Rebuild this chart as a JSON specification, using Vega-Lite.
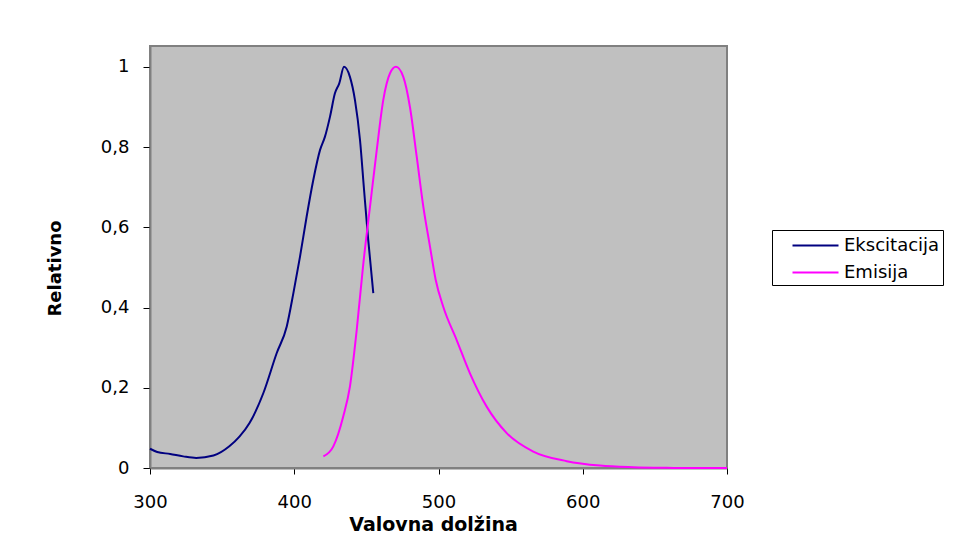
{
  "$schema": "https://vega.github.io/schema/vega-lite/v6.json",
  "width": 577,
  "height": 422,
  "autosize": "none",
  "padding": {"left": 150, "top": 46, "right": 235, "bottom": 87},
  "background": "white",
  "data": {
    "values": [
      {"nm": 300, "rel": 0.048, "serie": "Ekscitacija"},
      {"nm": 305, "rel": 0.040, "serie": "Ekscitacija"},
      {"nm": 314, "rel": 0.035, "serie": "Ekscitacija"},
      {"nm": 323, "rel": 0.029, "serie": "Ekscitacija"},
      {"nm": 332, "rel": 0.025, "serie": "Ekscitacija"},
      {"nm": 344, "rel": 0.031, "serie": "Ekscitacija"},
      {"nm": 355, "rel": 0.054, "serie": "Ekscitacija"},
      {"nm": 362, "rel": 0.078, "serie": "Ekscitacija"},
      {"nm": 369, "rel": 0.112, "serie": "Ekscitacija"},
      {"nm": 378.6, "rel": 0.187, "serie": "Ekscitacija"},
      {"nm": 387.8, "rel": 0.286, "serie": "Ekscitacija"},
      {"nm": 394.8, "rel": 0.353, "serie": "Ekscitacija"},
      {"nm": 399.4, "rel": 0.436, "serie": "Ekscitacija"},
      {"nm": 404, "rel": 0.527, "serie": "Ekscitacija"},
      {"nm": 408.6, "rel": 0.627, "serie": "Ekscitacija"},
      {"nm": 413.2, "rel": 0.718, "serie": "Ekscitacija"},
      {"nm": 417.9, "rel": 0.793, "serie": "Ekscitacija"},
      {"nm": 421.3, "rel": 0.826, "serie": "Ekscitacija"},
      {"nm": 424.8, "rel": 0.876, "serie": "Ekscitacija"},
      {"nm": 428.2, "rel": 0.934, "serie": "Ekscitacija"},
      {"nm": 431.2, "rel": 0.959, "serie": "Ekscitacija"},
      {"nm": 434.5, "rel": 1.0, "serie": "Ekscitacija"},
      {"nm": 438.6, "rel": 0.975, "serie": "Ekscitacija"},
      {"nm": 442.1, "rel": 0.917, "serie": "Ekscitacija"},
      {"nm": 445.6, "rel": 0.817, "serie": "Ekscitacija"},
      {"nm": 448.4, "rel": 0.693, "serie": "Ekscitacija"},
      {"nm": 451.3, "rel": 0.568, "serie": "Ekscitacija"},
      {"nm": 454.8, "rel": 0.436, "serie": "Ekscitacija"},
      {"nm": 420.2, "rel": 0.029, "serie": "Emisija"},
      {"nm": 427.1, "rel": 0.054, "serie": "Emisija"},
      {"nm": 434, "rel": 0.129, "serie": "Emisija"},
      {"nm": 438.6, "rel": 0.203, "serie": "Emisija"},
      {"nm": 443.3, "rel": 0.344, "serie": "Emisija"},
      {"nm": 447.9, "rel": 0.51, "serie": "Emisija"},
      {"nm": 452.5, "rel": 0.651, "serie": "Emisija"},
      {"nm": 457.2, "rel": 0.793, "serie": "Emisija"},
      {"nm": 461.7, "rel": 0.917, "serie": "Emisija"},
      {"nm": 466.4, "rel": 0.984, "serie": "Emisija"},
      {"nm": 470.5, "rel": 1.0, "serie": "Emisija"},
      {"nm": 475.6, "rel": 0.975, "serie": "Emisija"},
      {"nm": 480.2, "rel": 0.9, "serie": "Emisija"},
      {"nm": 484.9, "rel": 0.776, "serie": "Emisija"},
      {"nm": 489.5, "rel": 0.651, "serie": "Emisija"},
      {"nm": 494.1, "rel": 0.552, "serie": "Emisija"},
      {"nm": 498, "rel": 0.47, "serie": "Emisija"},
      {"nm": 503.3, "rel": 0.402, "serie": "Emisija"},
      {"nm": 512.6, "rel": 0.319, "serie": "Emisija"},
      {"nm": 521.8, "rel": 0.236, "serie": "Emisija"},
      {"nm": 533.4, "rel": 0.153, "serie": "Emisija"},
      {"nm": 547.3, "rel": 0.087, "serie": "Emisija"},
      {"nm": 565.7, "rel": 0.041, "serie": "Emisija"},
      {"nm": 588.9, "rel": 0.017, "serie": "Emisija"},
      {"nm": 612, "rel": 0.006, "serie": "Emisija"},
      {"nm": 635, "rel": 0.002, "serie": "Emisija"},
      {"nm": 658, "rel": 0.0005, "serie": "Emisija"},
      {"nm": 680, "rel": 0.0, "serie": "Emisija"},
      {"nm": 700, "rel": 0.0, "serie": "Emisija"}
    ]
  },
  "mark": {"type": "line", "strokeWidth": 2, "interpolate": "monotone", "clip": false},
  "encoding": {
    "x": {
      "field": "nm",
      "type": "quantitative",
      "scale": {"domain": [300, 700], "nice": false, "zero": false},
      "axis": {
        "title": "Valovna dolžina",
        "values": [300, 400, 500, 600, 700],
        "grid": false,
        "domainColor": "#808080",
        "domainWidth": 2,
        "tickColor": "#000000",
        "tickSize": 6,
        "labelPadding": 19,
        "labelFont": "DejaVu Sans",
        "labelFontSize": 18,
        "labelColor": "#000000",
        "labelFlush": false,
        "titleFont": "DejaVu Sans",
        "titleFontSize": 19,
        "titleFontWeight": "bold",
        "titleColor": "#000000",
        "titlePadding": 4,
        "titleX": 283
      }
    },
    "y": {
      "field": "rel",
      "type": "quantitative",
      "scale": {"domain": [0, 1.052], "nice": false},
      "axis": {
        "title": "Relativno",
        "values": [0, 0.2, 0.4, 0.6, 0.8, 1],
        "labelExpr": "replace(format(datum.value, '~g'), '.', ',')",
        "grid": false,
        "domainColor": "#808080",
        "domainWidth": 2,
        "tickColor": "#000000",
        "tickSize": 7,
        "labelPadding": 14,
        "labelFont": "DejaVu Sans",
        "labelFontSize": 18,
        "labelColor": "#000000",
        "titleFont": "DejaVu Sans",
        "titleFontSize": 18,
        "titleFontWeight": "bold",
        "titleColor": "#000000",
        "titleX": -95,
        "titleY": 222,
        "titleAngle": -90,
        "titleBaseline": "middle",
        "titleAlign": "center"
      }
    },
    "color": {
      "field": "serie",
      "type": "nominal",
      "scale": {"domain": ["Ekscitacija", "Emisija"], "range": ["#000080", "#FF00FF"]},
      "legend": {
        "title": null,
        "orient": "none",
        "legendX": 622,
        "legendY": 184,
        "symbolType": "M-2,0H2",
        "symbolSize": 529,
        "symbolStrokeWidth": 2,
        "symbolOffset": 28,
        "labelExpr": "datum.label + '\u2003'",
        "labelFont": "DejaVu Sans",
        "labelFontSize": 18,
        "labelColor": "#000000",
        "labelOffset": 16,
        "strokeColor": "#000000",
        "padding": 3,
        "rowPadding": 5
      }
    }
  },
  "config": {
    "view": {"fill": "#C0C0C0", "stroke": "#808080", "strokeWidth": 2}
  }
}
